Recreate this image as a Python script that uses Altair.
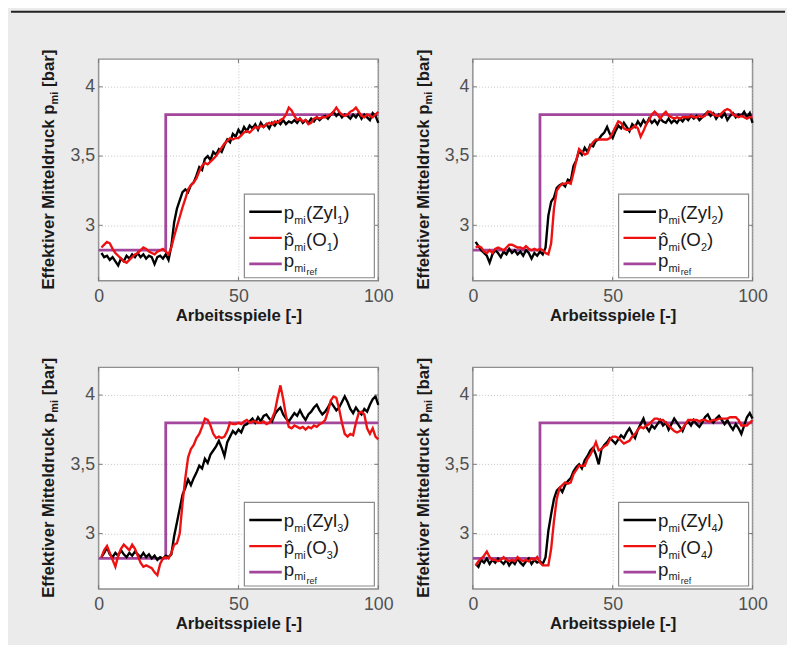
import altair as alt
import pandas as pd

# ---------------- data ----------------
cycles = list(range(1, 101))
ref_x = [0, 24, 24, 100]
ref_y = [2.82, 2.82, 3.80, 3.80]
x_ticks = [0, 50, 100]
y_ticks = [3.0, 3.5, 4.0]

zyl1 = [2.80, 2.77, 2.78, 2.75, 2.77, 2.74, 2.71, 2.76, 2.74, 2.78,
        2.76, 2.79, 2.77, 2.80, 2.77, 2.79, 2.76, 2.78, 2.77, 2.72,
        2.77, 2.78, 2.76, 2.79, 2.75, 2.85, 3.02, 3.12, 3.18, 3.24,
        3.26, 3.24, 3.29, 3.31, 3.36, 3.42, 3.40, 3.48, 3.50, 3.47,
        3.53, 3.51, 3.55, 3.53, 3.58, 3.62, 3.60, 3.66, 3.64, 3.69,
        3.66, 3.71, 3.68, 3.72, 3.70, 3.73, 3.69, 3.74, 3.71, 3.73,
        3.70, 3.74, 3.72, 3.75, 3.73, 3.76, 3.73, 3.75, 3.74, 3.76,
        3.74, 3.77, 3.74, 3.76, 3.74, 3.77, 3.75, 3.78, 3.76, 3.78,
        3.79, 3.77, 3.80, 3.82, 3.79, 3.81, 3.78, 3.80, 3.79, 3.77,
        3.80, 3.78, 3.81, 3.77, 3.80, 3.78, 3.76, 3.81, 3.79, 3.74]
obs1 = [2.84, 2.86, 2.88, 2.87, 2.83, 2.80, 2.78, 2.76, 2.74, 2.73,
        2.75, 2.77, 2.79, 2.80, 2.82, 2.84, 2.83, 2.81, 2.80, 2.79,
        2.81, 2.82, 2.83, 2.81, 2.79, 2.84, 2.92, 2.99, 3.06, 3.13,
        3.19, 3.26, 3.29, 3.31, 3.34, 3.39, 3.43, 3.45, 3.44, 3.46,
        3.48, 3.50, 3.53, 3.56, 3.59, 3.61, 3.63, 3.62, 3.63, 3.63,
        3.65, 3.67, 3.68, 3.67, 3.69, 3.71, 3.70, 3.72, 3.71, 3.73,
        3.74, 3.73, 3.75, 3.74, 3.76, 3.77, 3.80, 3.85, 3.83, 3.79,
        3.76, 3.77, 3.75, 3.76, 3.73, 3.74, 3.77, 3.78, 3.77, 3.78,
        3.78, 3.79, 3.80, 3.82, 3.85, 3.82, 3.80, 3.79, 3.80, 3.82,
        3.83, 3.85, 3.82, 3.79, 3.78, 3.80, 3.79, 3.78, 3.80, 3.82]

zyl2 = [2.88, 2.85, 2.82, 2.80, 2.78, 2.73, 2.79, 2.82, 2.80, 2.77,
        2.81, 2.79, 2.83, 2.80, 2.82, 2.79, 2.81, 2.78, 2.82, 2.80,
        2.76, 2.80, 2.78, 2.81, 2.79, 2.84, 3.07, 3.17, 3.20, 3.27,
        3.29, 3.30, 3.28, 3.33, 3.32, 3.43, 3.47, 3.54, 3.51, 3.56,
        3.53, 3.58, 3.57, 3.61, 3.62, 3.65, 3.67, 3.71, 3.66, 3.63,
        3.68, 3.72, 3.70, 3.74, 3.71, 3.68, 3.73, 3.71, 3.75, 3.72,
        3.76, 3.73, 3.77, 3.74, 3.76, 3.73, 3.77, 3.75, 3.74, 3.77,
        3.74, 3.76, 3.74, 3.77, 3.75, 3.78, 3.76, 3.79, 3.77, 3.79,
        3.76, 3.78, 3.80, 3.82, 3.79, 3.81, 3.77, 3.80, 3.78, 3.81,
        3.76, 3.79, 3.81, 3.78, 3.80, 3.79, 3.82, 3.78, 3.81, 3.74]
obs2 = [2.84, 2.85, 2.84, 2.81, 2.80, 2.82, 2.80, 2.83, 2.84, 2.83,
        2.82, 2.84, 2.86, 2.86, 2.85, 2.84, 2.84, 2.83, 2.85, 2.83,
        2.82, 2.83, 2.82, 2.83, 2.82, 2.80, 2.79, 2.87, 3.12, 3.25,
        3.28, 3.30, 3.30, 3.31, 3.30, 3.38, 3.47, 3.55, 3.53, 3.51,
        3.52, 3.57, 3.60, 3.62, 3.62, 3.62, 3.62, 3.62, 3.63, 3.67,
        3.71, 3.75, 3.74, 3.70, 3.69, 3.69, 3.70, 3.72, 3.70, 3.64,
        3.68, 3.73, 3.76, 3.80, 3.82, 3.80, 3.77, 3.80, 3.82, 3.79,
        3.78, 3.77, 3.78, 3.77, 3.78, 3.78, 3.78, 3.79, 3.78, 3.78,
        3.79, 3.78, 3.79, 3.82, 3.82, 3.80, 3.79, 3.79, 3.81, 3.83,
        3.84, 3.83, 3.80, 3.79, 3.78, 3.79, 3.78, 3.77, 3.78, 3.78]

zyl3 = [2.83, 2.86, 2.90, 2.85, 2.83, 2.86, 2.84, 2.88, 2.85, 2.83,
        2.86, 2.84, 2.87, 2.85, 2.83, 2.86, 2.83, 2.85, 2.82, 2.84,
        2.81, 2.83, 2.82, 2.84, 2.83, 2.85, 2.98, 3.08, 3.18, 3.28,
        3.33, 3.39, 3.35, 3.40, 3.44, 3.49, 3.47, 3.54, 3.51, 3.57,
        3.60, 3.63, 3.67, 3.62, 3.56, 3.66, 3.70, 3.74, 3.72, 3.75,
        3.73, 3.78, 3.79, 3.81, 3.83, 3.80, 3.84, 3.81, 3.85, 3.86,
        3.83, 3.81, 3.86, 3.89, 3.91, 3.86, 3.83, 3.81, 3.84, 3.87,
        3.85, 3.89, 3.85, 3.82, 3.86, 3.88, 3.91, 3.93, 3.89, 3.86,
        3.88, 3.91, 3.95, 3.92, 3.89, 3.91, 3.95, 3.99, 3.95, 3.90,
        3.87, 3.91, 3.88, 3.86, 3.90, 3.88, 3.93, 3.97, 3.99, 3.93]
obs3 = [2.83, 2.88, 2.91, 2.86, 2.81, 2.76, 2.84, 2.89, 2.92, 2.90,
        2.88, 2.92, 2.89, 2.84, 2.79, 2.76, 2.77, 2.76, 2.75, 2.72,
        2.70, 2.78, 2.82, 2.83, 2.82, 2.86, 2.92, 2.93, 3.00, 3.22,
        3.40, 3.55, 3.61, 3.64, 3.69, 3.72, 3.77, 3.83, 3.82, 3.78,
        3.72, 3.69, 3.70, 3.69, 3.70, 3.74, 3.80, 3.79, 3.79, 3.80,
        3.79, 3.81, 3.82, 3.80, 3.81, 3.81, 3.80, 3.80, 3.81, 3.79,
        3.80, 3.83, 3.88, 3.98, 4.07, 3.97, 3.85, 3.77, 3.76, 3.78,
        3.77, 3.76, 3.77, 3.75, 3.77, 3.76, 3.78, 3.77, 3.79, 3.80,
        3.82, 3.88, 3.96, 3.99, 3.98, 3.90, 3.80, 3.72, 3.70, 3.72,
        3.71, 3.80, 3.87, 3.88, 3.86, 3.76, 3.72, 3.76, 3.70, 3.68]

zyl4 = [2.78, 2.76, 2.81, 2.79, 2.82, 2.78, 2.81, 2.79, 2.82, 2.80,
        2.78, 2.81, 2.77, 2.80, 2.78, 2.82, 2.79, 2.77, 2.80, 2.82,
        2.78, 2.81, 2.79, 2.80, 2.78, 2.83, 3.02, 3.14, 3.25, 3.31,
        3.33, 3.30, 3.35, 3.38, 3.40, 3.45, 3.48, 3.50, 3.47, 3.53,
        3.56, 3.60, 3.62, 3.57, 3.50, 3.61, 3.64, 3.66, 3.69, 3.67,
        3.65, 3.68, 3.71, 3.69, 3.73, 3.76, 3.72, 3.69, 3.75, 3.79,
        3.83, 3.77, 3.74, 3.78, 3.76, 3.79, 3.82, 3.78, 3.80, 3.75,
        3.79, 3.83, 3.80, 3.77, 3.74, 3.79, 3.81, 3.78, 3.82, 3.79,
        3.77, 3.80, 3.84, 3.86, 3.82, 3.80, 3.83, 3.85, 3.82, 3.79,
        3.82, 3.78, 3.75, 3.79, 3.76, 3.72, 3.78, 3.84, 3.87, 3.83]
obs4 = [2.77, 2.80, 2.82, 2.84, 2.87, 2.83, 2.81, 2.81, 2.80, 2.81,
        2.83, 2.81, 2.80, 2.81, 2.80, 2.83, 2.81, 2.80, 2.81, 2.80,
        2.82, 2.81, 2.83, 2.79, 2.77, 2.77, 2.77, 2.89, 3.09, 3.25,
        3.33, 3.35, 3.37, 3.36, 3.37, 3.43, 3.46, 3.49, 3.49, 3.49,
        3.54, 3.57, 3.61, 3.66, 3.60, 3.61, 3.63, 3.64, 3.68, 3.70,
        3.70, 3.69, 3.67, 3.65, 3.66, 3.67, 3.70, 3.72, 3.75, 3.77,
        3.76, 3.78, 3.79, 3.81, 3.83, 3.83, 3.82, 3.82, 3.80, 3.78,
        3.76, 3.74, 3.73, 3.74, 3.76, 3.79, 3.82, 3.82, 3.82, 3.82,
        3.81, 3.82, 3.82, 3.81, 3.81, 3.82, 3.82, 3.83, 3.83, 3.83,
        3.83, 3.84, 3.84, 3.84, 3.82, 3.78, 3.78, 3.78, 3.80, 3.82]

measured = [zyl1, zyl2, zyl3, zyl4]
observed = [obs1, obs2, obs3, obs4]

# ---------------- styling ----------------
W, H = 284, 225
FONT = "Liberation Sans"
BLACK, RED, PURPLE = "#000000", "#ee1111", "#a3479d"
TXT = "#1a1a1a"

xscale = alt.Scale(domain=[0, 100], nice=False, zero=False)
yscale = alt.Scale(domain=[2.6, 4.2], nice=False, zero=False)
xaxis = alt.Axis(values=x_ticks, title="Arbeitsspiele [-]", grid=True,
                 domain=False, ticks=False, labelPadding=7,
                 labelFlush=False, titlePadding=2)
yaxis = alt.Axis(values=y_ticks, title=None, grid=True, domain=False,
                 ticks=False, labelPadding=4,
                 labelExpr="replace(format(datum.value, '.1~f'), '.', ',')")

one = pd.DataFrame({"k": [0]})
ref_df = pd.DataFrame({"x": ref_x, "v": ref_y})
xt_df = pd.DataFrame({"t": x_ticks})
yt_df = pd.DataFrame({"t": y_ticks})


def txt(s, x, y, size, weight="normal", angle=0):
    return alt.Chart(one).mark_text(
        text=s, font=FONT, fontSize=size, fontWeight=weight, angle=angle,
        align="left", baseline="alphabetic", color=TXT
    ).encode(x=alt.value(x), y=alt.value(y))


def hrule(x1, x2, y, color, width):
    return alt.Chart(one).mark_rule(color=color, strokeWidth=width).encode(
        x=alt.value(x1), x2=alt.value(x2), y=alt.value(y))


def panel(i, meas, obs, top_rule=False):
    df = pd.DataFrame({"x": cycles, "m": meas, "o": obs})
    enc_x = alt.X("x:Q", scale=xscale, axis=xaxis)
    ref = alt.Chart(ref_df).mark_line(color=PURPLE, strokeWidth=2.8).encode(
        x=enc_x, y=alt.Y("v:Q", scale=yscale, axis=yaxis))
    blk = alt.Chart(df).mark_line(color=BLACK, strokeWidth=2.4).encode(
        x=enc_x, y=alt.Y("m:Q", scale=yscale, axis=yaxis))
    red = alt.Chart(df).mark_line(color=RED, strokeWidth=2.4).encode(
        x=enc_x, y=alt.Y("o:Q", scale=yscale, axis=yaxis))
    # small inner ticks (matlab style)
    xt_b = alt.Chart(xt_df).mark_rule(color="#777", strokeWidth=1).encode(
        x=alt.X("t:Q", scale=xscale), y=alt.value(H), y2=alt.value(H - 4))
    xt_t = alt.Chart(xt_df).mark_rule(color="#777", strokeWidth=1).encode(
        x=alt.X("t:Q", scale=xscale), y=alt.value(0), y2=alt.value(4))
    yt_l = alt.Chart(yt_df).mark_rule(color="#777", strokeWidth=1).encode(
        y=alt.Y("t:Q", scale=yscale), x=alt.value(0), x2=alt.value(4))
    yt_r = alt.Chart(yt_df).mark_rule(color="#777", strokeWidth=1).encode(
        y=alt.Y("t:Q", scale=yscale), x=alt.value(W), x2=alt.value(W - 4))

    # legend
    box = alt.Chart(one).mark_rect(fill="white", stroke="#8a8a8a",
                                   strokeWidth=1.2).encode(
        x=alt.value(148), x2=alt.value(280), y=alt.value(137), y2=alt.value(222))
    l1, l2, l3 = 155, 181.5, 208
    leg = [box,
           hrule(153, 186, l1, BLACK, 2.4),
           hrule(153, 186, l2, RED, 2.4),
           hrule(153, 186, l3, PURPLE, 2.8)]
    b1, b2, b3 = l1 + 7.5, l2 + 8.5, l3 + 3.5
    leg += [txt("p", 188, b1, 19), txt("mi", 198.6, b1 + 5, 11),
            txt("(Zyl", 210.5, b1, 19), txt(str(i), 242.3, b1 + 5, 11),
            txt(")", 248.4, b1, 19)]
    leg += [txt("p\u0302", 188, b2, 19), txt("mi", 198.6, b2 + 5, 11),
            txt("(O", 210.5, b2, 19), txt(str(i), 231.6, b2 + 5, 11),
            txt(")", 237.7, b2, 19)]
    leg += [txt("p", 188, b3, 19), txt("mi", 198.6, b3 + 4.5, 11),
            txt("ref", 211.2, b3 + 8, 9)]

    # rotated y title with subscript
    ytitle = [txt("Effektiver Mitteldruck p", -45, 234, 17, "bold", 270),
              txt("mi", -41, 46, 11, "bold", 270),
              txt("[bar]", -45, 28.2, 17, "bold", 270)]

    layers = [ref, blk, red, xt_b, xt_t, yt_l, yt_r] + leg + ytitle
    if top_rule:
        layers.append(hrule(-89, 697, -48, "#222222", 2))
    return alt.layer(*layers).properties(width=W, height=H)


panels = [panel(k + 1, measured[k], observed[k], top_rule=(k == 0))
          for k in range(4)]

chart = alt.concat(
    *panels, columns=2, spacing={"row": 88, "column": 96}, bounds="flush"
).properties(
    background="#ebebeb",
    padding={"left": 1, "top": -3, "right": 0, "bottom": 8},
).configure_view(
    fill="white", stroke="#8f8f8f", strokeWidth=1.5
).configure_axis(
    labelFont=FONT, labelFontSize=18, labelColor="#505050",
    titleFont=FONT, titleFontSize=17, titleFontWeight="bold", titleColor=TXT,
    gridColor="#c4c4c4", gridDash=[1, 2], gridWidth=1
)

chart.save("out.html", embed_options={"renderer": "svg", "actions": False})
